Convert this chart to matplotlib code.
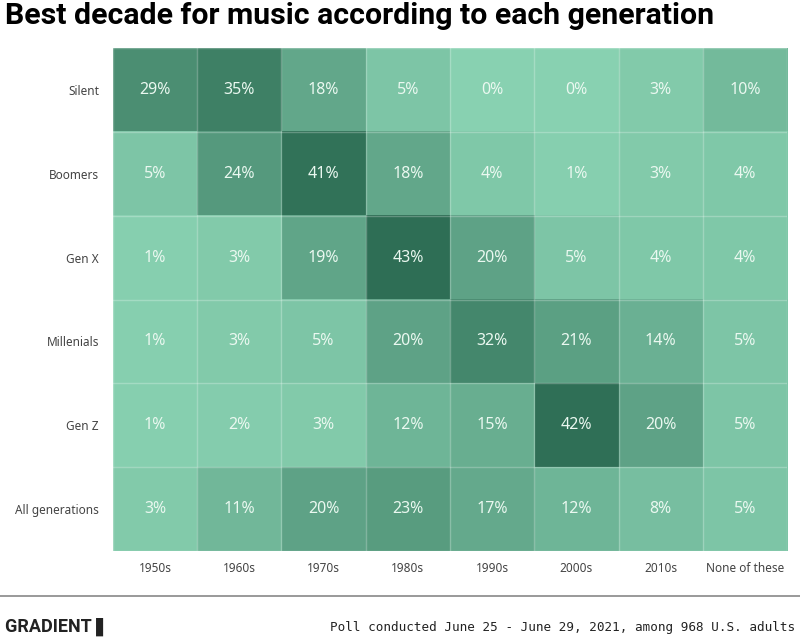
import matplotlib
matplotlib.use("Agg")
import matplotlib.pyplot as plt
import numpy as np
from matplotlib.colors import LinearSegmentedColormap

generations = ["Silent", "Boomers", "Gen X", "Millenials", "Gen Z", "All generations"]
decades = ["1950s", "1960s", "1970s", "1980s", "1990s", "2000s", "2010s", "None of these"]

silent = [29, 35, 18, 5, 0, 0, 3, 10]
boomers = [5, 24, 41, 18, 4, 1, 3, 4]
gen_x = [1, 3, 19, 43, 20, 5, 4, 4]
millenials = [1, 3, 5, 20, 32, 21, 14, 5]
gen_z = [1, 2, 3, 12, 15, 42, 20, 5]
all_gens = [3, 11, 20, 23, 17, 12, 8, 5]

values = np.array([silent, boomers, gen_x, millenials, gen_z, all_gens])

cmap = LinearSegmentedColormap.from_list("greens", ["#88d1b1", "#2e6e55"])

fig = plt.figure(figsize=(8, 6.4), dpi=100)
ax = fig.add_axes([0.141, 0.139, 0.843, 0.786])

ax.imshow(values, cmap=cmap, vmin=0, vmax=43, aspect="auto")

# thin light grid between cells
for i in range(len(decades) + 1):
    ax.axvline(i - 0.5, color="white", alpha=0.25, lw=1)
for j in range(len(generations) + 1):
    ax.axhline(j - 0.5, color="white", alpha=0.25, lw=1)

for r in range(values.shape[0]):
    for c in range(values.shape[1]):
        ax.text(c, r, f"{values[r, c]}%", ha="center", va="center",
                color="#eaf8f0", fontsize=11.5, family="Noto Sans")

ax.set_xticks(range(len(decades)))
ax.set_xticklabels(decades, family="Noto Sans", fontsize=8.5, color="#444444")
ax.set_yticks(range(len(generations)))
ax.set_yticklabels(generations, family="Noto Sans", fontsize=8.5, color="#444444")
ax.tick_params(axis="x", length=0, pad=8)
ax.tick_params(axis="y", length=0, pad=10)
for s in ax.spines.values():
    s.set_visible(False)

fig.text(0.006, 0.975, "Best decade for music according to each generation",
         family="Roboto", fontweight="bold", fontsize=21.8, va="center", ha="left")

# footer
fig.add_artist(plt.Line2D([0, 1], [0.068, 0.068], color="#888888", lw=1.2,
                          transform=fig.transFigure))
fig.text(0.006, 0.021, "GRADIENT \u258c", family=["Roboto", "DejaVu Sans"], fontweight="bold",
         fontsize=13, va="center", ha="left", color="#222222")
fig.text(0.994, 0.02, "Poll conducted June 25 - June 29, 2021, among 968 U.S. adults",
         family="DejaVu Sans Mono", fontsize=9.1, va="center", ha="right", color="#222222")

fig.savefig("out.png", dpi=100)
